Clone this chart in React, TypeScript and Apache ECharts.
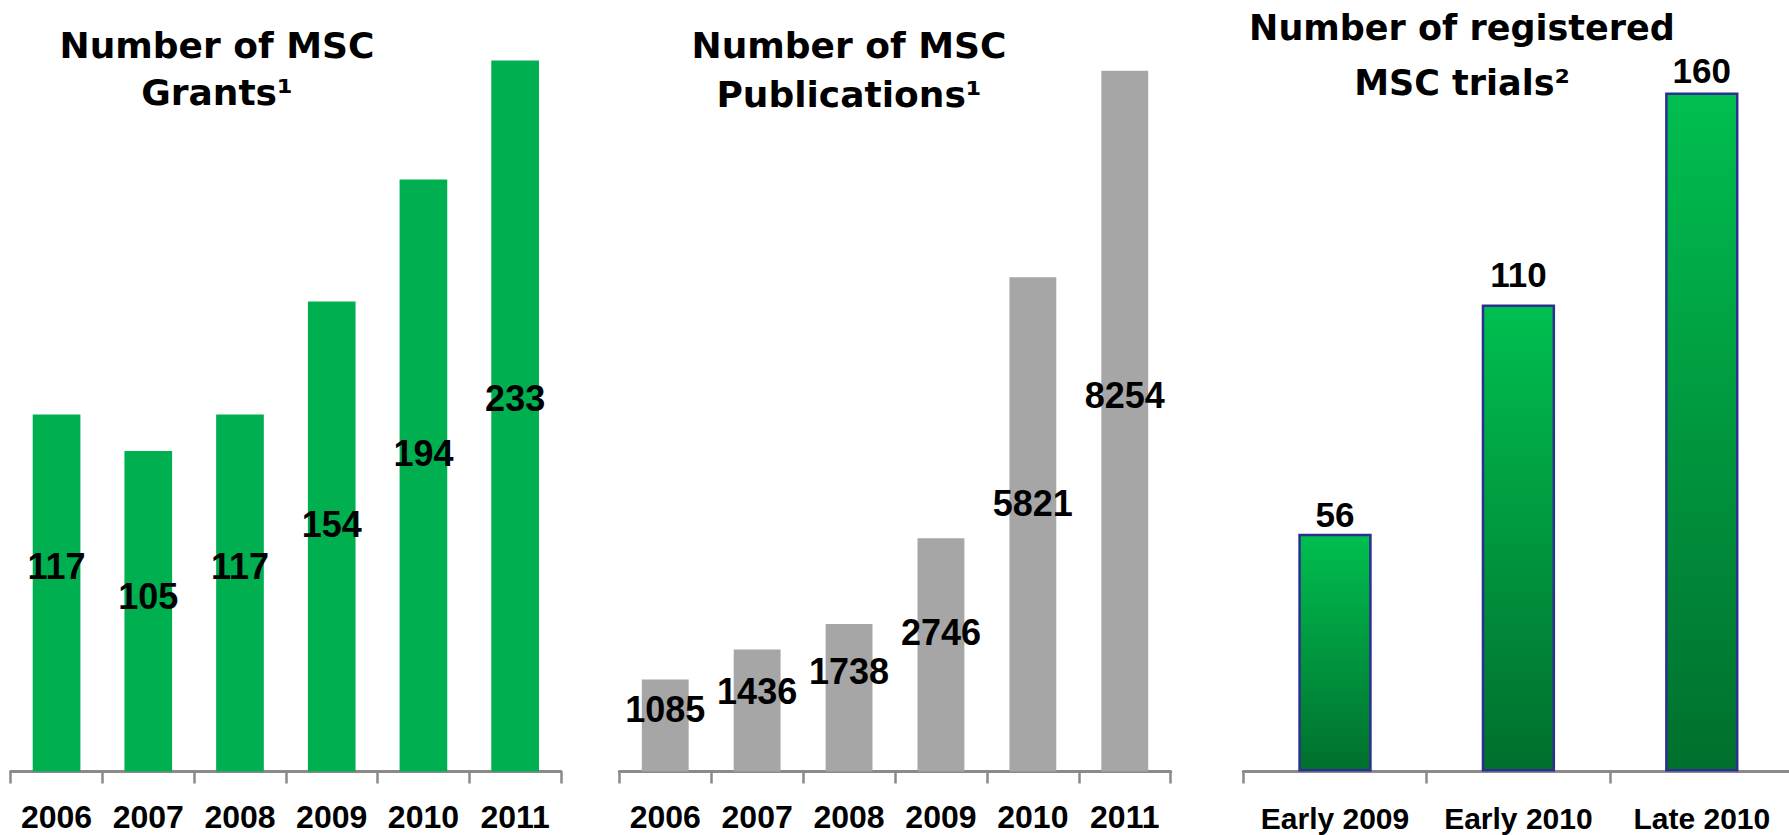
import React, { useEffect, useRef } from "react";
import * as echarts from "echarts";

// ---- data ----
const grantYears = ["2006", "2007", "2008", "2009", "2010", "2011"];
const grantValues = [117, 105, 117, 154, 194, 233];

const pubYears = ["2006", "2007", "2008", "2009", "2010", "2011"];
const pubValues = [1085, 1436, 1738, 2746, 5821, 8254];

const trialPeriods = ["Early 2009", "Early 2010", "Late 2010"];
const trialValues = [56, 110, 160];

const titleGrants = "Number of MSC\nGrants¹";
const titlePubs = "Number of MSC\nPublications¹";
const titleTrials = "Number of registered\nMSC trials²";

// ---- label placement (style, % of bar height from its top) ----
const grantLabelPct = [42.6, 45.5, 42.6, 47.4, 46.3, 47.5];
const pubLabelPct = [33, 34.6, 31.9, 40.4, 45.7, 46.3];
const trialLabelGap = [2, 13, 4];

const FONT = '"Liberation Sans", Arial, Helvetica, sans-serif';
const TITLE_FONT = '"DejaVu Sans", Verdana, sans-serif';
const AXIS_GRAY = "#8a8a8a";

function xAxisFor(gridIndex: number, data: string[], fontSize: number, margin: number) {
  return {
    type: "category",
    gridIndex,
    data,
    axisLine: { show: true, lineStyle: { color: AXIS_GRAY, width: 3 } },
    axisTick: { show: true, length: 12, lineStyle: { color: AXIS_GRAY, width: 2.5 } },
    axisLabel: {
      interval: 0,
      margin,
      color: "#000",
      fontSize,
      fontWeight: "bold",
      fontFamily: FONT,
    },
    splitLine: { show: false },
  };
}

function yAxisFor(gridIndex: number, max: number) {
  return { type: "value", gridIndex, min: 0, max, show: false };
}

function titleFor(text: string, center: number, top: number, fontSize: number, lineHeight: number) {
  return {
    text,
    left: center,
    top,
    textAlign: "center",
    padding: 0,
    textStyle: { fontSize, fontWeight: "bold", lineHeight, color: "#000", fontFamily: TITLE_FONT },
  };
}

export default function App() {
  const ref = useRef<HTMLDivElement>(null);

  useEffect(() => {
    if (!ref.current) return;
    const chart = echarts.init(ref.current, null, { renderer: "svg" });

    const dataLabel = {
      show: true,
      align: "center",
      verticalAlign: "middle",
      color: "#000",
      fontSize: 36,
      fontWeight: "bold",
      fontFamily: FONT,
    };

    const option: any = {
      animation: false,
      backgroundColor: "#ffffff",
      title: [
        titleFor(titleGrants, 217, 21.5, 36, 47),
        titleFor(titlePubs, 849, 21.5, 36, 48.5),
        titleFor(titleTrials, 1462, 0, 35, 55),
      ],
      grid: [
        { left: 10.7, top: 8.5, width: 550.3, height: 763, outerBoundsMode: "none", containLabel: false },
        { left: 619.3, top: 7.4, width: 551.4, height: 764.1, outerBoundsMode: "none", containLabel: false },
        { left: 1243.3, top: 7.5, width: 550.2, height: 764, outerBoundsMode: "none", containLabel: false },
      ],
      xAxis: [
        xAxisFor(0, grantYears, 32, 29.5),
        xAxisFor(1, pubYears, 32, 29.5),
        xAxisFor(2, trialPeriods, 30, 31.5),
      ],
      yAxis: [yAxisFor(0, 250), yAxisFor(1, 9000), yAxisFor(2, 180)],
      series: [
        {
          type: "bar",
          xAxisIndex: 0,
          yAxisIndex: 0,
          barWidth: "52%",
          itemStyle: { color: "#00b050" },
          label: dataLabel,
          data: grantValues.map((v, i) => ({
            value: v,
            label: { position: ["50%", grantLabelPct[i] + "%"] },
          })),
        },
        {
          type: "bar",
          xAxisIndex: 1,
          yAxisIndex: 1,
          barWidth: "51%",
          itemStyle: { color: "#a6a6a6" },
          label: dataLabel,
          data: pubValues.map((v, i) => ({
            value: v,
            label: { position: ["50%", pubLabelPct[i] + "%"] },
          })),
        },
        {
          type: "bar",
          xAxisIndex: 2,
          yAxisIndex: 2,
          barWidth: "40%",
          itemStyle: {
            color: {
              type: "linear",
              x: 0,
              y: 0,
              x2: 0,
              y2: 1,
              colorStops: [
                { offset: 0, color: "#00bf50" },
                { offset: 1, color: "#006f2d" },
              ],
            },
            borderColor: "#2b2f8f",
            borderWidth: 2.5,
          },
          label: {
            show: true,
            position: "top",
            color: "#000",
            fontSize: 35,
            fontWeight: "bold",
            fontFamily: FONT,
          },
          data: trialValues.map((v, i) => ({
            value: v,
            label: { distance: trialLabelGap[i] },
          })),
        },
      ],
    };

    chart.setOption(option);
    return () => {
      chart.dispose();
    };
  }, []);

  return (
    <div
      ref={ref}
      style={{ position: "fixed", left: 0, top: 0, width: 1789, height: 835, background: "#fff" }}
    />
  );
}
